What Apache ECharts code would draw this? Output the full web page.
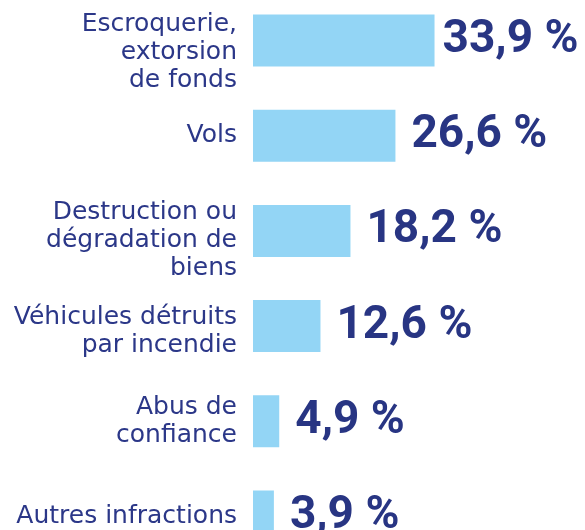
<!DOCTYPE html>
<html lang="fr">
<head>
    <meta charset="utf-8">
    <title>Infractions</title>
    <script src="https://cdn.jsdelivr.net/npm/echarts@6/dist/echarts.min.js"></script>
    <style>
        html, body { margin: 0; padding: 0; background: #fff; }
        #container { width: 585px; height: 530px; }
    </style>
</head>
<body>
<div id="container"></div>
<script>
    var categories = [
        'Escroquerie,\nextorsion\nde fonds',
        'Vols',
        'Destruction ou\ndégradation de\nbiens',
        'Véhicules détruits\npar incendie',
        'Abus de\nconfiance',
        'Autres infractions'
    ];
    var values = [33.9, 26.6, 18.2, 12.6, 4.9, 3.9];

    // decalage vertical des libelles (ligne vide en haut)
    var padTop = [24, 0, 20, 10, 0, 0];

    var navy = '#2b3788';
    var myChart = echarts.init(document.getElementById('container'));

    var barData = values.map(function (v, i) {
        return i === 0 ? {value: v, label: {distance: 8}} : v;
    });

    var option = {
        animation: false,
        grid: {left: 253, right: 0, top: -7, bottom: -34, outerBoundsMode: 'none', containLabel: false},
        xAxis: {
            type: 'value',
            min: 0,
            max: 62,
            show: false
        },
        yAxis: {
            type: 'category',
            inverse: true,
            data: categories,
            axisLine: {show: false},
            axisTick: {show: false},
            axisLabel: {
                margin: 16,
                color: navy,
                fontFamily: 'DejaVu Sans',
                fontSize: 25,
                lineHeight: 28,
                align: 'right',
                formatter: function (value, index) {
                    var p = padTop[index];
                    return p ? '{p' + p + '| }\n' + value : value;
                },
                rich: {
                    p24: {lineHeight: 24, fontSize: 2},
                    p20: {lineHeight: 20, fontSize: 2},
                    p10: {lineHeight: 10, fontSize: 2}
                }
            }
        },
        series: [{
            type: 'bar',
            data: barData,
            barWidth: 52,
            itemStyle: {color: '#93d5f5'},
            label: {
                show: true,
                position: 'right',
                distance: 16,
                color: '#283583',
                fontFamily: 'Roboto',
                fontWeight: 'bold',
                fontSize: 46,
                formatter: function (p) {
                    return String(p.value).replace('.', ',') + ' %';
                }
            }
        }]
    };
    myChart.setOption(option);
</script>
</body>
</html>
